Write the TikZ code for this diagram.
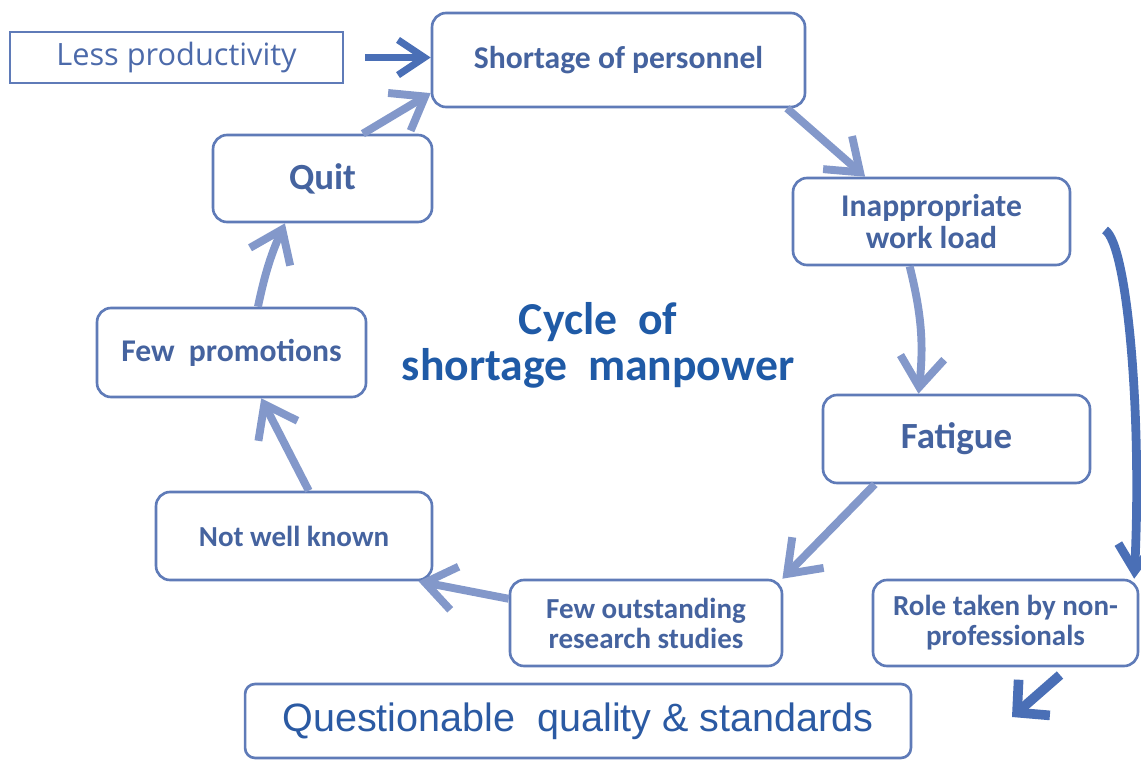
\documentclass[tikz,border=0pt]{standalone}
\usepackage{fontspec}
\setmainfont{Carlito}
\newfontfamily\lessfont{Open Sans}
\newfontfamily\qualfont{Liberation Sans}
\usetikzlibrary{arrows.meta}
\definecolor{boxline}{HTML}{5F7BB8}
\definecolor{boxtext}{HTML}{45639F}
\definecolor{titleblue}{HTML}{1F5AA6}
\definecolor{qualblue}{HTML}{2B5AA3}
\definecolor{lesstext}{HTML}{4C6AAA}
\definecolor{arrlight}{HTML}{8398CA}
\definecolor{arrdark}{HTML}{4A6FB6}

\tikzset{
	stage/.style={draw=boxline, line width=1.5pt, rounded corners=0.28cm, fill=white, text=boxtext, align=center, inner sep=0pt, font=\bfseries\fontsize{18}{18}\selectfont},
	cyc/.style={draw=arrlight, line width=4.5pt, -{Straight Barb[length=17pt,width=25pt]}},
	push/.style={draw=arrdark, line width=4pt, -{Straight Barb[length=15pt,width=20pt]}},
	bigpush/.style={draw=arrdark, line width=5.5pt, -{Straight Barb[length=13pt,width=27pt]}},
}

\begin{document}
\begin{tikzpicture}[x=0.02cm, y=-0.02cm]
			%%%%% START %%%%%
			\useasboundingbox (0, 0) rectangle (1141, 760);
			
			\node[draw=boxline, line width=1.2pt, text=lesstext, minimum width=6.66cm, minimum height=1.02cm, font=\lessfont\fontsize{17.5}{18}\selectfont] (less) at (176.5, 57.5) {Less productivity};
			
			\node[stage, minimum width=7.46cm, minimum height=1.88cm] (short) at (618.5, 60) {Shortage of personnel};
			\node[stage, minimum width=4.38cm, minimum height=1.74cm, font=\bfseries\fontsize{21}{21}\selectfont] (quit) at (322.5, 178.5) {Quit};
			\node[stage, minimum width=5.54cm, minimum height=1.74cm] (load) at (931.5, 221.5) {Inappropriate\\work load};
			\node[stage, minimum width=5.38cm, minimum height=1.78cm] (promo) at (231.5, 352.5) {Few\ \ promotions};
			\node[stage, minimum width=5.34cm, minimum height=1.76cm, font=\bfseries\fontsize{21}{21}\selectfont] (fatigue) at (956.5, 439) {Fatigue};
			\node[stage, minimum width=5.52cm, minimum height=1.76cm, font=\bfseries\fontsize{16.5}{17}\selectfont] (known) at (294, 536) {Not well known};
			\node[stage, minimum width=5.44cm, minimum height=1.72cm, font=\bfseries\fontsize{16.5}{17}\selectfont] (studies) at (646, 623) {Few outstanding\\research studies};
			\node[stage, minimum width=5.3cm, minimum height=1.72cm, font=\bfseries\fontsize{16.5}{17}\selectfont] (role) at (1005.5, 623) {Role taken by non-\\professionals};
			\node[stage, rounded corners=0.2cm, minimum width=13.32cm, minimum height=1.48cm, text=qualblue, font=\qualfont\fontsize{22.5}{23}\selectfont] (quality) at (578, 721) {Questionable\ \ quality \& standards};
			
			\node[text=titleblue, align=center, font=\bfseries\fontsize{26}{26}\selectfont] (title) at (598, 345) {Cycle\ \ of\\shortage\ \ manpower};
			
			% the cycle
			\draw[push, shorten <=12] (less.east) -- (less.east -| short.west);
			\draw[cyc] (quit.48) -- (short.190);
			\draw[cyc] (short.-16) -- (load.146);
			\draw[cyc] (load.-116) to[bend left=10] (fatigue.130);
			\draw[cyc] (fatigue.209) -- (studies.18);
			\draw[cyc] (studies.170) -- (known.-20);
			\draw[cyc] (known.72) -- (promo.-57);
			\draw[cyc] (promo.60) to[bend left=6] (quit.230);
			
			% side branch
			\coordinate (loadtail) at (1105, 230);
			\coordinate (roletail) at (1060, 675);
			\coordinate (roletip) at (1012, 717);
			\draw[push, line width=5pt] (loadtail) .. controls (1128, 245) and (1142, 420) .. (role.19);
			\draw[bigpush] (roletail) -- (roletip);
			%%%%% END %%%%%
\end{tikzpicture}
\end{document}
